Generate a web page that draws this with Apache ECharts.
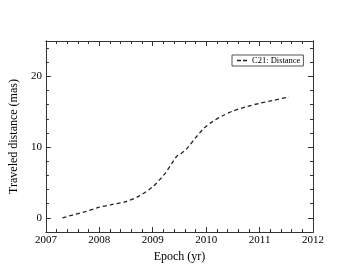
<!DOCTYPE html>
<html>
<head>
<meta charset="utf-8">
<script src="https://cdn.jsdelivr.net/npm/echarts@6/dist/echarts.min.js"></script>
<style>html,body{margin:0;padding:0;background:#fff;}#c{width:353px;height:273px;}</style>
</head>
<body>
<div id="c"></div>
<script>
const seriesName = 'C21: Distance';
const epochs = [2007.31, 2007.5, 2007.75, 2008.0, 2008.25, 2008.5, 2008.75, 2009.0, 2009.2, 2009.35, 2009.45, 2009.55, 2009.65, 2009.8, 2009.95, 2010.1, 2010.3, 2010.5, 2010.75, 2011.0, 2011.25, 2011.55];
const distance = [0.0, 0.4, 0.9, 1.5, 1.9, 2.3, 3.1, 4.4, 6.0, 7.6, 8.7, 9.2, 9.9, 11.3, 12.6, 13.5, 14.4, 15.1, 15.7, 16.2, 16.6, 17.1];
const yMajorTicks = [0, 10, 20];
const yMinorTicks = [-2, 2, 4, 6, 8, 12, 14, 16, 18, 22, 24];

const font = 'Liberation Serif';
const axisColor = '#333';
const chart = echarts.init(document.getElementById('c'), null, {renderer: 'canvas'});

function xAx(pos, labels) {
  return {
    type: 'value', position: pos, min: 2007, max: 2012, interval: 1,
    name: labels ? 'Epoch (yr)' : '', nameLocation: 'middle', nameGap: 16,
    nameTextStyle: {fontFamily: font, fontSize: 12, color: '#000'},
    axisLine: {show: true, onZero: false, lineStyle: {color: axisColor, width: 1}},
    axisTick: {show: true, inside: true, length: 5, lineStyle: {color: axisColor}},
    minorTick: {show: true, splitNumber: 5, length: 3, lineStyle: {color: axisColor}},
    axisLabel: {show: labels, margin: 3, fontFamily: font, fontSize: 11, color: '#000',
      formatter: v => String(v)},
    splitLine: {show: false}, minorSplitLine: {show: false}
  };
}
function yAx(pos, labels, major) {
  const o = {
    type: 'value', position: pos, min: -2, max: 25,
    axisLine: {show: true, onZero: false, lineStyle: {color: axisColor, width: 1}},
    axisTick: {show: true, inside: true, length: major ? 5 : 3, lineStyle: {color: axisColor},
      customValues: major ? yMajorTicks : yMinorTicks},
    axisLabel: {show: labels, margin: 4, fontFamily: font, fontSize: 11, color: '#000',
      customValues: yMajorTicks},
    splitLine: {show: false}
  };
  if (labels) {
    o.name = 'Traveled distance (mas)';
    o.nameLocation = 'middle';
    o.nameGap = 15;
    o.nameTextStyle = {fontFamily: font, fontSize: 12, color: '#000'};
  }
  return o;
}

const option = {
  backgroundColor: '#fff',
  animation: false,
  grid: {left: 41, right: 40, top: 41, bottom: 41, containLabel: false},
  xAxis: [xAx('bottom', true), xAx('top', false)],
  yAxis: [yAx('left', true, true), yAx('left', false, false), yAx('right', false, true), yAx('right', false, false)],
  legend: {
    data: [{name: seriesName, icon: 'path://M0,0h4v1.4h-4zM6,0h4v1.4h-4z'}],
    left: 232, top: 55, orient: 'horizontal',
    borderColor: '#555', borderWidth: 1, borderRadius: 0, padding: [1, 3, 1, 5],
    itemWidth: 10, itemHeight: 1.4, itemGap: 4,
    itemStyle: {color: '#222'},
    textStyle: {fontFamily: font, fontSize: 8.5, color: '#000'}
  },
  series: [{
    name: seriesName, type: 'line', xAxisIndex: 0, yAxisIndex: 0,
    data: epochs.map((e, i) => [e, distance[i]]),
    smooth: 0.3, symbol: 'none', showSymbol: false,
    lineStyle: {color: '#222', width: 1.3, type: [4, 3]},
    itemStyle: {color: '#222'}
  }]
};
chart.setOption(option);
</script>
</body>
</html>
